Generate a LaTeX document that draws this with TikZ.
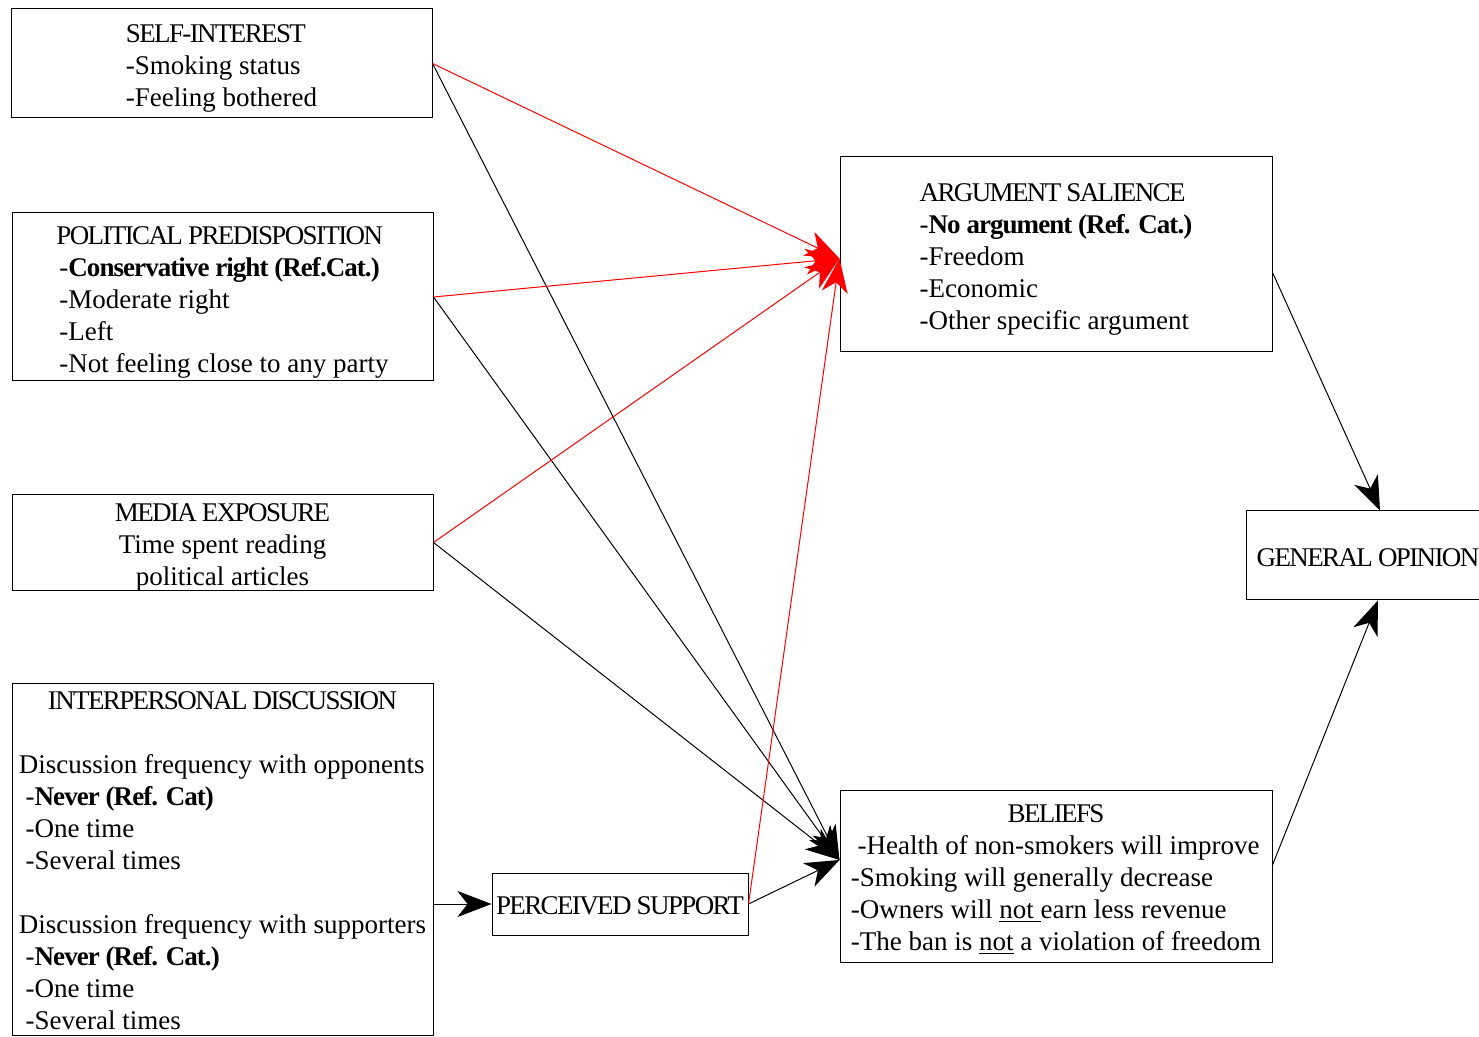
\documentclass[tikz,border=0pt]{standalone}
\usepackage{fontspec}
\setmainfont{Liberation Serif}
\usetikzlibrary{arrows.meta}
\newcommand{\capt}[1]{{\addfontfeature{LetterSpace=-6}#1}}
\newcommand{\bldc}[1]{{\bfseries\addfontfeature{LetterSpace=-3.5}#1}}
\newcommand{\lowr}[2][2.5pt]{\raisebox{-#1}[\height][\depth]{#2}}
\begin{document}
\begin{tikzpicture}[x=0.5pt,y=-0.5pt,
  box/.style={draw, line width=0.5pt, inner sep=0pt, font=\fontsize{13.5}{16}\selectfont},
  link/.style={line width=0.5pt, -{Stealth[length=17pt,width=13pt,inset=5pt]}},
  redlink/.style={link, red}]
\useasboundingbox (0,0) rectangle (1479,1037);

\node[box, minimum width=210.5pt, minimum height=54.5pt] (self) at (221.5,63.5)
  {\lowr{\begin{tabular}{@{}l@{}}\capt{SELF-INTEREST}\\-Smoking status\\-Feeling bothered\end{tabular}}};

\node[box, minimum width=210.5pt, minimum height=84pt] (pol) at (222.5,297)
  {\lowr{\begin{tabular}{@{}l@{}}\capt{POLITICAL PREDISPOSITION}\\
   \hspace*{1.5pt}-\bldc{Conservative right (Ref.Cat.)}\\
   \hspace*{1.5pt}-Moderate right\\
   \hspace*{1.5pt}-Left\\
   \hspace*{1.5pt}-Not feeling close to any party\end{tabular}}};

\node[box, minimum width=210.5pt, minimum height=45.5pt] (media) at (222.5,542.5)
  {\lowr{\begin{tabular}{@{}c@{}}\capt{MEDIA EXPOSURE}\\Time spent reading\\political articles\end{tabular}}};

\node[box, minimum width=210.5pt, minimum height=176pt] (inter) at (222.5,859)
  {\lowr[2pt]{\begin{tabular}{@{}l@{}}
   \multicolumn{1}{@{}c@{}}{\capt{INTERPERSONAL DISCUSSION}}\\
   \\
   Discussion frequency with opponents\\
   \ -\bldc{Never (Ref. Cat)}\\
   \ -One time\\
   \ -Several times\\
   \\
   Discussion frequency with supporters\\
   \ -\bldc{Never (Ref. Cat.)}\\
   \ -One time\\
   \ -Several times
   \end{tabular}}};

\node[box, minimum width=128pt, minimum height=31pt] (perc) at (620,904)
  {\lowr[1pt]{\capt{PERCEIVED SUPPORT}}};

\node[box, minimum width=216pt, minimum height=97.5pt] (arg) at (1056,254.5)
  {\lowr{\begin{tabular}{@{}l@{}}\capt{ARGUMENT SALIENCE}\\
   -\bldc{No argument (Ref. Cat.)}\\
   -Freedom\\
   -Economic\\
   -Other specific argument\end{tabular}}};

\node[box, minimum width=216pt, minimum height=86pt] (bel) at (1056,876)
  {\lowr[2pt]{\begin{tabular}{@{}l@{}}
   \multicolumn{1}{@{}c@{}}{\capt{BELIEFS}}\\
   \ -Health of non-smokers will improve\\
   -Smoking will generally decrease\\
   -Owners will \underline{not }earn less revenue\\
   -The ban is \underline{not} a violation of freedom
   \end{tabular}}};

\node[box, minimum width=122pt, minimum height=44.5pt] (gen) at (1368,555.5)
  {\lowr[1pt]{\capt{GENERAL OPINION}}};

\draw[link] (self.east) -- ([yshift=8pt]bel.west);
\draw[link] (pol.east) -- ([yshift=8pt]bel.west);
\draw[link] (media.east) -- ([yshift=8pt]bel.west);
\draw[link] (perc.east) -- ([yshift=8pt]bel.west);

\draw[redlink] (self.east) -- ([yshift=-2pt]arg.west);
\draw[redlink] (pol.east) -- ([yshift=-2pt]arg.west);
\draw[redlink] (media.east) -- ([yshift=-2pt]arg.west);
\draw[redlink] (perc.east) -- ([yshift=-2pt]arg.west);

\draw[link] (perc.west -| inter.east) -- (perc.west);
\draw[link] ([yshift=-9pt]arg.east) -- ([xshift=6pt]gen.north);
\draw[link] ([yshift=5.5pt]bel.east) -- ([xshift=5pt]gen.south);
\end{tikzpicture}
\end{document}
